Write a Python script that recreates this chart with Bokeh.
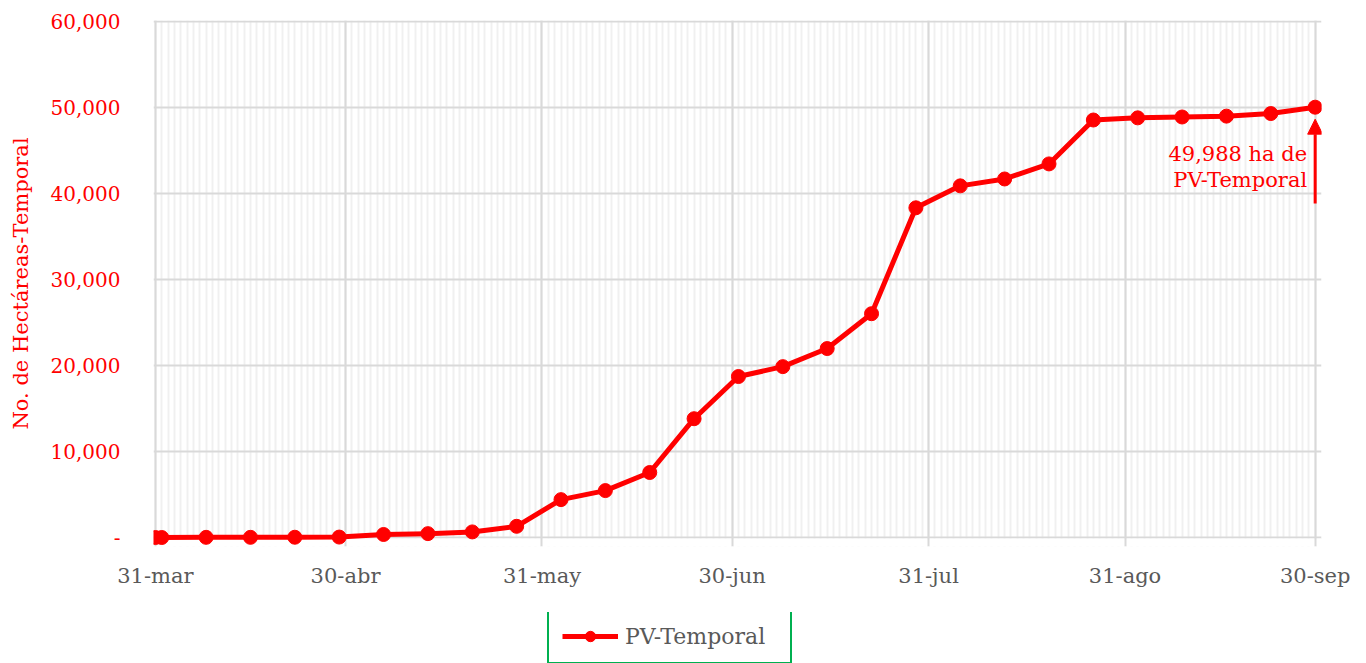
from datetime import datetime
from bokeh.plotting import figure
from bokeh.layouts import column
from bokeh.models import (ColumnDataSource, Range1d, FixedTicker, CustomJSTickFormatter,
                          Arrow, NormalHead, Legend, LegendItem, BoxAnnotation, Grid)
from bokeh.core.properties import value
from bokeh.embed import file_html
from bokeh.resources import INLINE

# ---------------- data ----------------
dates = ["2023-03-31", "2023-04-01", "2023-04-08", "2023-04-15", "2023-04-22", "2023-04-29",
         "2023-05-06", "2023-05-13", "2023-05-20", "2023-05-27", "2023-06-03", "2023-06-10",
         "2023-06-17", "2023-06-24", "2023-07-01", "2023-07-08", "2023-07-15", "2023-07-22",
         "2023-07-29", "2023-08-05", "2023-08-12", "2023-08-19", "2023-08-26", "2023-09-02",
         "2023-09-09", "2023-09-16", "2023-09-23", "2023-09-30"]
hectares = [0, 0, 20, 20, 30, 50,
            350, 450, 650, 1300, 4400, 5450,
            7550, 13800, 18700, 19850, 21950, 26000,
            38300, 40850, 41650, 43400, 48500, 48750,
            48850, 48950, 49250, 49988]

x_tick_dates = ["2023-03-31", "2023-04-30", "2023-05-31", "2023-06-30",
                "2023-07-31", "2023-08-31", "2023-09-30"]
x_tick_labels = ["31-mar", "30-abr", "31-may", "30-jun", "31-jul", "31-ago", "30-sep"]
y_ticks = [0, 10000, 20000, 30000, 40000, 50000, 60000]
y_tick_labels = ["-", "10,000", "20,000", "30,000", "40,000", "50,000", "60,000"]

series_name = "PV-Temporal"
y_label = "No. de Hectáreas-Temporal"
note_text = f"{hectares[-1]:,} ha de\nPV-Temporal"
note_y = 43050
arrow_from = 38800
arrow_to = 48600

FONT = "DejaVu Serif"
RED = "#ff0000"
DAY = 86400000.0


def to_dt(s):
    return datetime.strptime(s, "%Y-%m-%d")


def to_ms(d):
    return (d - datetime(1970, 1, 1)).total_seconds() * 1000.0


xs = [to_dt(d) for d in dates]
x_tick_ms = [to_ms(to_dt(d)) for d in x_tick_dates]
first_ms = to_ms(xs[0])
end_ms = to_ms(to_dt("2023-10-01"))
minor_ms = [first_ms + i * DAY for i in range(int((end_ms - first_ms) / DAY) + 1)]

source = ColumnDataSource(data=dict(x=xs, y=hectares))

# ---------------- main chart ----------------
p = figure(width=1366, height=612, x_axis_type="datetime",
           x_range=Range1d(first_ms - 0.3 * DAY, end_ms),
           y_range=Range1d(-1045, 60060),
           output_backend="svg", toolbar_location=None,
           min_border_left=153, min_border_top=20, min_border_right=45,
           min_border_bottom=66)
p.outline_line_color = None
p.background_fill_color = "white"

# x axis (labels only)
xa = p.xaxis[0]
xa.ticker = FixedTicker(ticks=x_tick_ms, minor_ticks=minor_ms)
xa.formatter = CustomJSTickFormatter(args=dict(tv=x_tick_ms, lab=x_tick_labels),
                                     code="const i = tv.indexOf(tick); return i < 0 ? '' : lab[i];")
xa.major_tick_out = 0
xa.major_tick_in = 0
xa.minor_tick_out = 0
xa.minor_tick_in = 0
xa.major_tick_line_color = None
xa.minor_tick_line_color = None
xa.axis_line_color = None
xa.major_label_standoff = 17
xa.major_label_text_font = FONT
xa.major_label_text_font_size = "21px"
xa.major_label_text_color = "#595959"

# y axis
ya = p.yaxis[0]
ya.ticker = FixedTicker(ticks=y_ticks)
ya.formatter = CustomJSTickFormatter(args=dict(tv=y_ticks, lab=y_tick_labels),
                                     code="const i = tv.indexOf(tick); return i < 0 ? '' : lab[i];")
ya.axis_line_color = None
ya.major_tick_line_color = None
ya.minor_tick_line_color = None
ya.major_tick_out = 0
ya.major_tick_in = 0
ya.minor_tick_out = 0
ya.minor_tick_in = 0
ya.major_label_standoff = 33
ya.major_label_text_font = FONT
ya.major_label_text_font_size = "20px"
ya.major_label_text_color = RED
ya.axis_label = y_label
ya.axis_label_text_font = FONT
ya.axis_label_text_font_size = "21px"
ya.axis_label_text_font_style = "normal"
ya.axis_label_text_color = RED
ya.axis_label_standoff = 15

# grids: minor daily lines (x), horizontal lines (y)
p.xgrid.grid_line_color = None
p.xgrid.minor_grid_line_color = "#f0f0f0"
p.xgrid.minor_grid_line_width = 2
p.ygrid.grid_line_color = "#d9d9d9"
p.ygrid.grid_line_width = 2

# hide the minor lines below the zero line
p.add_layout(BoxAnnotation(top=-130, fill_color="white", fill_alpha=1.0,
                           line_color=None, level="underlay"))

# month-end lines, reaching a little below zero
p.add_layout(Grid(dimension=0, ticker=FixedTicker(ticks=x_tick_ms),
                  grid_line_color="#d9d9d9", grid_line_width=2, level="underlay"))

# series
p.line("x", "y", source=source, line_color=RED, line_width=5, line_join="round")
p.scatter("x", "y", source=source, size=14, fill_color=RED, line_color=RED)

# annotation
last_ms = to_ms(xs[-1])
p.add_layout(Arrow(end=NormalHead(size=15, fill_color=RED, line_color=RED, line_width=1),
                   x_start=last_ms, y_start=arrow_from, x_end=last_ms, y_end=arrow_to,
                   line_color=RED, line_width=3))
p.text(x=[last_ms], y=[note_y], text=[note_text], text_font=value(FONT),
       text_font_size="21px", text_color=RED, text_align="right",
       text_baseline="middle", x_offset=-8, text_line_height=1.05)

# ---------------- legend strip ----------------
lf = figure(width=1366, height=51, output_backend="svg", toolbar_location=None,
            x_axis_location=None, y_axis_location=None,
            min_border_left=0, min_border_right=0, min_border_top=0, min_border_bottom=0)
lf.outline_line_color = None
lf.grid.visible = False
lg_line = lf.line("x", "y", source=source, line_color=RED, line_width=5, visible=False)
lg_pts = lf.scatter("x", "y", source=source, size=14, fill_color=RED, line_color=RED,
                    visible=False)
legend = Legend(items=[LegendItem(label=series_name, renderers=[lg_line, lg_pts])],
                location=(394, -1), padding=13, glyph_width=56, glyph_height=26,
                label_height=20, label_standoff=7, label_width=152, margin=0,
                border_line_color="#00b050", border_line_width=2, border_line_alpha=1.0,
                label_text_font=FONT, label_text_font_size="22px",
                label_text_color="#595959", background_fill_color="white",
                background_fill_alpha=1.0, inactive_fill_alpha=0.0)
lf.add_layout(legend, "center")

open("out.html", "w").write(file_html(column(p, lf), INLINE))
